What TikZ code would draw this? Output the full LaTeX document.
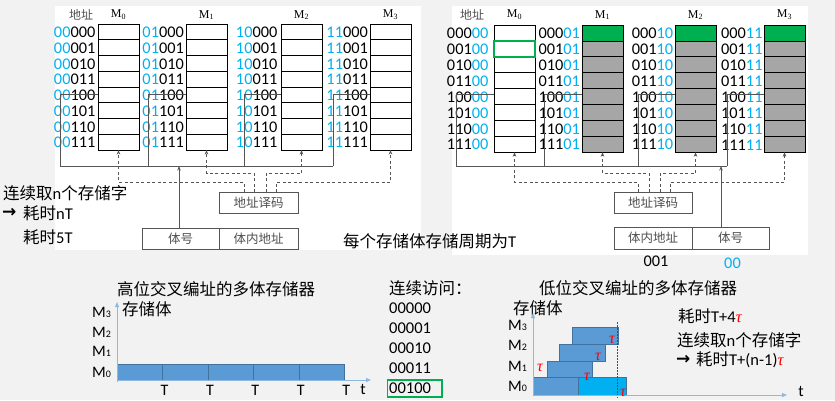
\documentclass[tikz,border=0pt]{standalone}
\usepackage{fontspec}
\setmainfont{Carlito}
\newfontfamily\cjk{Noto Sans CJK SC}
\newfontfamily\lserif{Liberation Serif}
\newfontfamily\djv{DejaVu Sans}
\usetikzlibrary{arrows.meta,calc}
\definecolor{addrblue}{HTML}{00B0F0}
\definecolor{bggray}{HTML}{F2F2F2}
\definecolor{cellgray}{HTML}{A6A6A6}
\definecolor{cellgreen}{HTML}{00B050}
\definecolor{barblue}{HTML}{5B9BD5}
\definecolor{barcyan}{HTML}{00B0F0}
\definecolor{baredge}{HTML}{41719C}
\definecolor{axisblue}{HTML}{8FB8E0}
\definecolor{labgray}{HTML}{505050}
\definecolor{wiregray}{HTML}{555555}
\newcommand\tauR{\textcolor{red}{\lserif\itshape τ}}
\begin{document}
\begin{tikzpicture}[x=1pt,y=-1pt,
  cell/.style={draw=black,line width=0.7pt,minimum width=41pt,inner sep=0,outer sep=0},
  addr/.style={inner sep=0,anchor=east,font=\fontsize{16.3}{16.3}\selectfont},
  wire/.style={draw=wiregray,line width=0.8pt},
  dwire/.style={wire,dash pattern=on 3pt off 2.5pt},
  tip/.style={-{Stealth[length=4.5pt,width=3.5pt]}},
  glab/.style={inner sep=0,text=labgray,font=\cjk\fontsize{12}{12}\selectfont},
  mname/.style={inner sep=0,font=\lserif\fontsize{12}{12}\selectfont},
  zh/.style={inner sep=0,anchor=west,font=\fontsize{16.5}{18}\selectfont},
  arr/.style={inner sep=0,anchor=west,font=\djv\bfseries\fontsize{17}{17}\selectfont},
  gbox/.style={draw=wiregray,line width=0.8pt,minimum height=21pt,inner sep=0,outer sep=0,text=labgray,font=\cjk\fontsize{12.5}{12.5}\selectfont},
  axis/.style={draw=axisblue,line width=1pt,-{Triangle[length=5pt,width=4pt]}},
  bar/.style={fill=barblue,draw=baredge,line width=0.6pt},
  mlab/.style={inner sep=0,anchor=west,font=\fontsize{16}{16}\selectfont},
  tlab/.style={inner sep=0,anchor=north,font=\fontsize{16}{16}\selectfont}
]
\useasboundingbox (0,0) rectangle (835,400);
\fill[bggray] (0,0) rectangle (835,400);
\fill[white] (55,6) rectangle (421,250);
\fill[white] (452,6) rectangle (808,255);

% ---------------- left top diagram ----------------
\node[glab] (laddr) at (81,15) {地址};
\foreach \bk/\bx/\g [count=\k from 0] in {00/98/2.5,01/186/2,10/281/3.5,11/370/2}{
  \foreach \rw [count=\i from 0] in {000,001,010,011,100,101,110,111}{
    \node[cell,minimum height=15.75pt] (lc\bk-\i) at ({\bx+20.5},{24+15.75*(\i+0.5)}) {};
    \node[addr] (la\bk-\i) at ({\bx-\g},{24+15.75*(\i+0.5)+0.5}) {\textcolor{addrblue}{\bk}\rw};
  }
  \node[mname] (lm\bk) at ({\bx+20.5},15) {M\textsubscript{\k}};
}
\coordinate (lb0) at (60,166);
\coordinate (lb1) at (148,166);
\coordinate (lb2) at (244,166);
\coordinate (lb3) at (333,166);
\draw[wire] (lc00-4.west) -| (lb0);
\draw[wire] (lc01-4.west) -| (lb1);
\draw[wire] (lc10-4.west) -| (lb2);
\draw[wire] (lc11-4.west) -| (lb3);
\draw[wire] (lb0) -- (lb3);

\node[gbox,minimum width=79pt] (ldec) at (258.5,202.5) {地址译码};
\node[gbox,minimum width=77pt] (lnum) at (180.5,238.5) {体号};
\node[gbox,minimum width=79pt,anchor=west] (loff) at (lnum.east) {体内地址};
\coordinate (lax) at (179,166);
\draw[wire,tip] (lax |- lnum.north) -- (lax);

\coordinate (lp0) at (244,182);
\coordinate (lp1) at (254,173);
\coordinate (lp2) at (266,173);
\coordinate (lp3) at (276,182);
\draw[dwire,tip] (lp0 |- ldec.north) -- (lp0) -| (lc00-7.south);
\draw[dwire,tip] (lp1 |- ldec.north) -- (lp1) -| (lc01-7.south);
\draw[dwire,tip] (lp2 |- ldec.north) -- (lp2) -| (lc10-7.south);
\draw[dwire,tip] (lp3 |- ldec.north) -- (lp3) -| (lc11-7.south);

% ---------------- right top diagram ----------------
\node[glab] (raddr) at (472,15) {地址};
\foreach \bk/\bx/\g/\fa/\fb [count=\k from 0] in {00/494/5.5/white/white,01/582/2/cellgreen/cellgray,10/675/1.7/cellgreen/cellgray,11/764/1.3/cellgreen/cellgray}{
  \foreach \rw [count=\i from 0] in {000,001,010,011,100,101,110,111}{
    \ifnum\i=0 \def\fc{\fa}\else\def\fc{\fb}\fi
    \node[cell,minimum height=15.9pt,fill=\fc] (rc\bk-\i) at ({\bx+20.5},{25+15.9*(\i+0.5)}) {};
    \node[addr] (ra\bk-\i) at ({\bx-\g},{25+15.9*(\i+0.5)+0.5}) {\rw\textcolor{addrblue}{\bk}};
  }
  \node[mname] (rm\bk) at ({\bx+20.5},15) {M\textsubscript{\k}};
}
\draw[draw=cellgreen,line width=1.8pt] (rc00-1.north west) rectangle (rc00-1.south east);
\coordinate (rb0) at (456,166);
\coordinate (rb1) at (544,166);
\coordinate (rb2) at (638,166);
\coordinate (rb3) at (727,166);
\draw[wire] ($(rc00-4.west)+(0,-2)$) -| (rb0);
\draw[wire] ($(rc01-4.west)+(0,-2)$) -| (rb1);
\draw[wire] ($(rc10-4.west)+(0,-2)$) -| (rb2);
\draw[wire] ($(rc11-4.west)+(0,-2)$) -| (rb3);
\draw[wire] (rb0) -- (rb3);

\node[gbox,minimum width=78pt] (rdec) at (653,202.5) {地址译码};
\node[gbox,minimum width=78pt,minimum height=22pt] (roff) at (653,238) {体内地址};
\node[gbox,minimum width=77pt,minimum height=22pt,anchor=west] (rnum) at (roff.east) {体号};
\coordinate (rax) at (721,166);
\draw[wire,tip] (rax |- rnum.north) -- (rax);

\coordinate (rp0) at (638,182);
\coordinate (rp1) at (649,173);
\coordinate (rp2) at (660,173);
\coordinate (rp3) at (670,182);
\draw[dwire,tip] (rp0 |- rdec.north) -- (rp0) -| (rc00-7.south);
\draw[dwire,tip] (rp1 |- rdec.north) -- (rp1) -| (rc01-7.south);
\draw[dwire,tip] (rp2 |- rdec.north) -- (rp2) -| (rc10-7.south);
\draw[dwire,tip] (rp3 |- rdec.north) -- (rp3) -| (rc11-7.south);

\node[inner sep=0,font=\fontsize{16.3}{16.3}\selectfont] (roffbits) at (656,261) {001};
\node[inner sep=0,text=addrblue,font=\fontsize{16.3}{16.3}\selectfont] (rnumbits) at (732.5,263) {00};

% ---------------- texts ----------------
\node[zh] (t1) at (3,193) {{\cjk 连续取}n{\cjk 个存储字}};
\node[arr] (t2a) at (2,213) {→};
\node[zh] (t2) at (23,213) {{\cjk 耗时}nT};
\node[zh] (t3) at (23,237) {{\cjk 耗时}5T};
\node[zh] (t4) at (343,241) {{\cjk 每个存储体存储周期为}T};

% ---------------- bottom left chart ----------------
\node[zh] (tl) at (117,289) {\cjk 高位交叉编址的多体存储器};
\node[zh] (sl) at (122,309) {\cjk 存储体};
\node[mlab] (lm3) at (92,312) {M{\fontsize{10}{10}\selectfont 3}};
\node[mlab] (lm2) at (92,332) {M{\fontsize{10}{10}\selectfont 2}};
\node[mlab] (lm1) at (92,351) {M{\fontsize{10}{10}\selectfont 1}};
\node[mlab] (lm0) at (92,372) {M{\fontsize{10}{10}\selectfont 0}};
\foreach \k in {0,...,4}{
  \draw[bar] ({117+45.46*\k},364) rectangle ({117+45.46*(\k+1)},380);
  \node[tlab] (lt\k) at ({119+45.46*(\k+1)},385.5) {T};
}
\draw[axis] (117,381.5) -- (117,302);
\draw[axis] (117,380) -- (371,380);
\node[inner sep=0,font=\fontsize{16}{16}\selectfont] (ltt) at (363,389) {t};

% ---------------- middle list ----------------
\node[zh] (cv) at (389,288) {\cjk 连续访问：};
\node[zh] (a0) at (389,308.3) {00000};
\node[zh] (a1) at (389,328.3) {00001};
\node[zh] (a2) at (389,348.3) {00010};
\node[zh] (a3) at (389,367.8) {00011};
\node[zh] (a4) at (389,388) {00100};
\draw[draw=cellgreen,line width=1.6pt] (387.3,380) rectangle (441.7,396.7);

% ---------------- bottom right chart ----------------
\node[zh] (tr) at (539,288) {\cjk 低位交叉编址的多体存储器};
\node[zh] (sr) at (513,308) {\cjk 存储体};
\node[mlab] (rm3l) at (508,325) {M{\fontsize{10}{10}\selectfont 3}};
\node[mlab] (rm2l) at (508,345.5) {M{\fontsize{10}{10}\selectfont 2}};
\node[mlab] (rm1l) at (508,366) {M{\fontsize{10}{10}\selectfont 1}};
\node[mlab] (rm0l) at (508,386) {M{\fontsize{10}{10}\selectfont 0}};
\draw[bar] (533.3,377.7) rectangle (578.3,395);
\draw[bar,fill=barcyan] (578.3,377.7) rectangle (626,395);
\draw[bar] (547.3,361) rectangle (592.7,377.7);
\draw[bar] (559,344.3) rectangle (605,361);
\draw[bar] (572.3,327.7) rectangle (618.3,344.3);
\draw[red,line width=0.8pt,dash pattern=on 1.5pt off 1.5pt] (617,322) -- (617,398);
\draw[axis] (533,396) -- (533,313);
\draw[axis] (533,395) -- (787,395);
\node[inner sep=0,font=\fontsize{16}{16}\selectfont] (rtt) at (801,391) {t};
\node[inner sep=0,font=\fontsize{16}{16}\selectfont] (tau1) at (540,368) {\tauR};
\node[inner sep=0,font=\fontsize{16}{16}\selectfont] (tau2) at (587,377) {\tauR};
\node[inner sep=0,font=\fontsize{16}{16}\selectfont] (tau3) at (598,357) {\tauR};
\node[inner sep=0,font=\fontsize{16}{16}\selectfont] (tau4) at (612,340) {\tauR};
\node[inner sep=0,font=\fontsize{16}{16}\selectfont] (tau5) at (623,393) {\tauR};

\node[zh] (r1) at (678,316) {{\cjk 耗时}T+4\tauR};
\node[zh] (r2) at (677,340) {{\cjk 连续取}n{\cjk 个存储字}};
\node[arr] (r3a) at (676,360) {→};
\node[zh] (r3) at (696,360) {{\cjk 耗时}T+(n-1)\tauR};
\end{tikzpicture}
\end{document}
